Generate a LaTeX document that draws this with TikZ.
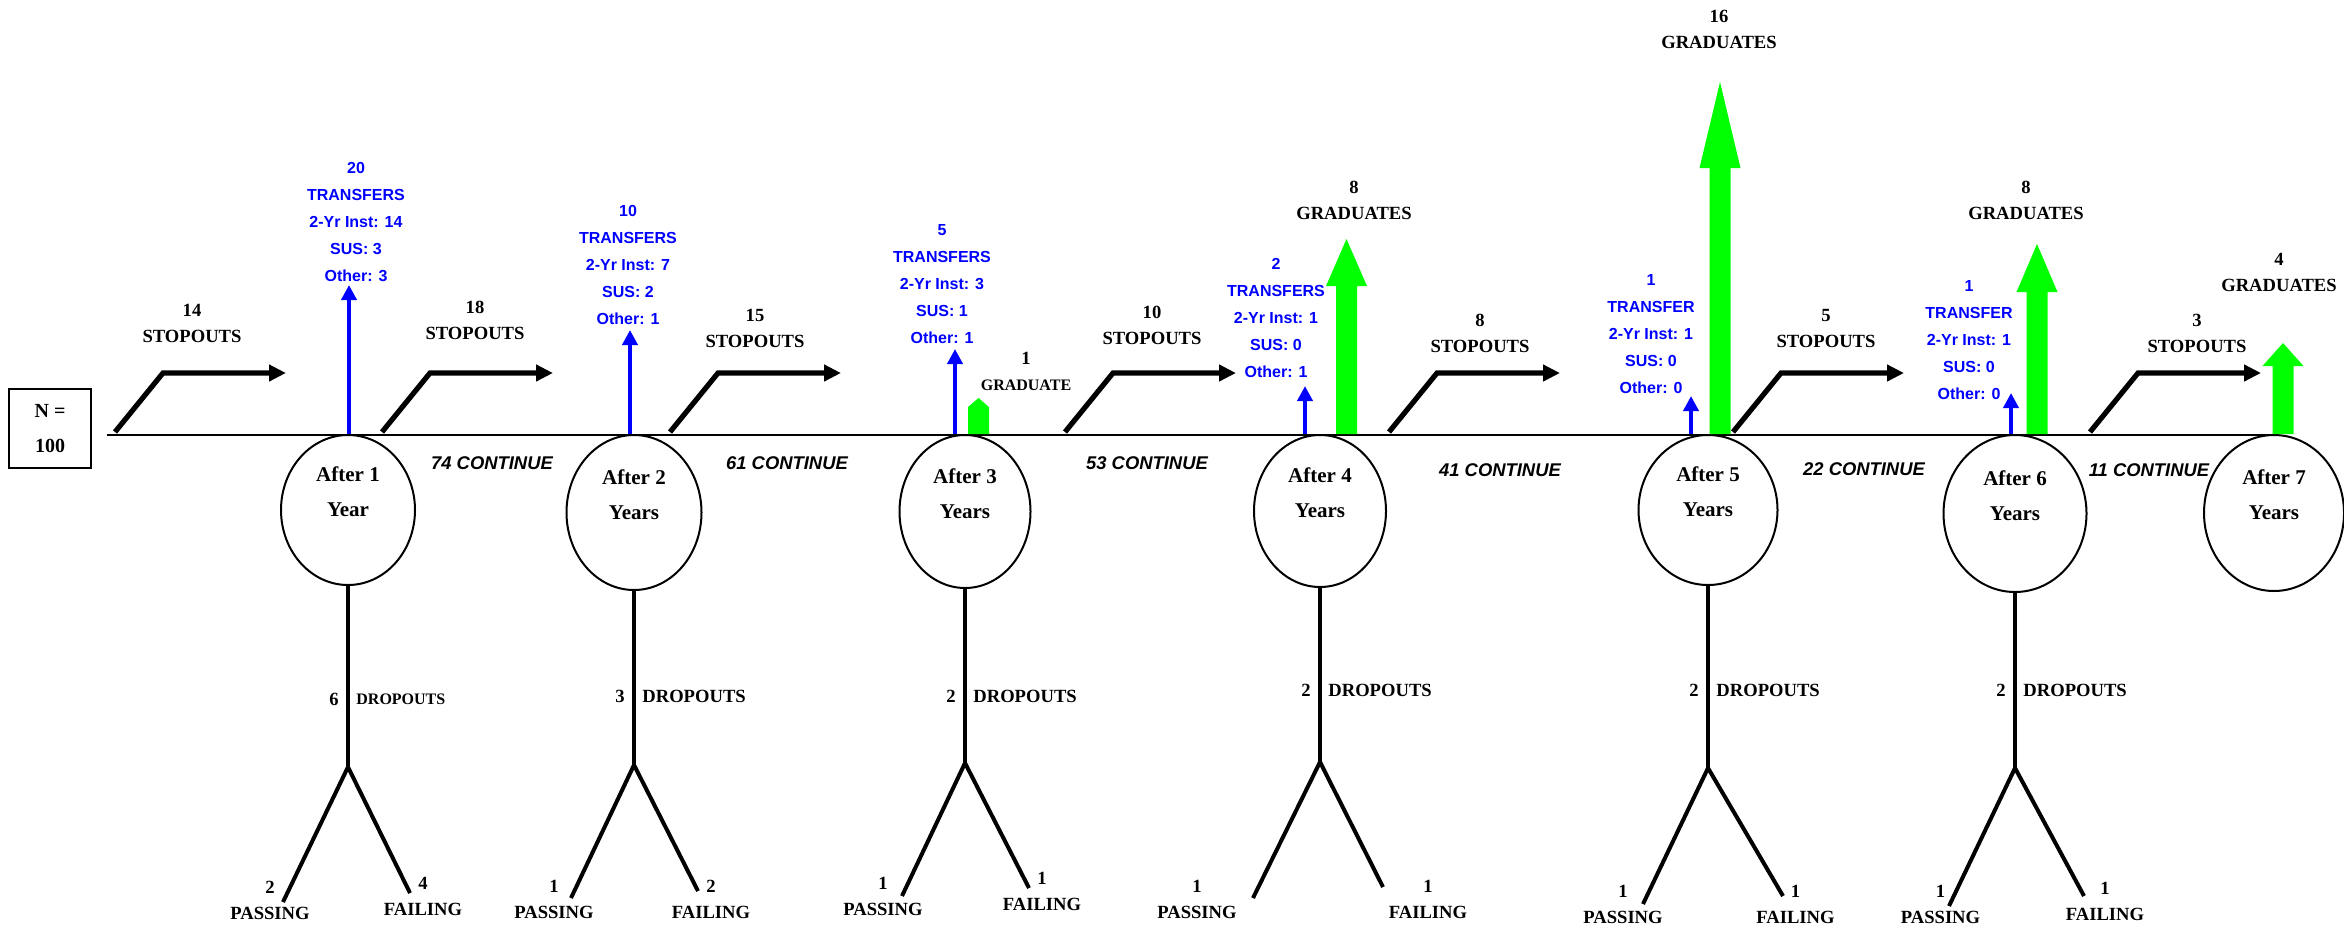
\documentclass[tikz,border=0pt]{standalone}
\usepackage{fontspec}
\setmainfont{Liberation Serif}
\setsansfont{Liberation Sans}
\usetikzlibrary{arrows.meta,shapes.geometric}

\definecolor{xferblue}{RGB}{0,0,255}
\definecolor{gradgreen}{RGB}{0,255,0}

\tikzset{
  yearcirc/.style={ellipse, draw, line width=1pt, inner sep=0pt, outer sep=0pt, anchor=north},
  yeartext/.style={font=\fontsize{10.5}{17.5}\selectfont\bfseries, align=center, inner sep=0pt},
  lbl/.style={font=\fontsize{9.3}{13}\selectfont\bfseries, align=center, inner sep=0pt},
  xfertext/.style={font=\fontsize{8}{13.5}\selectfont\sffamily\bfseries, text=xferblue, align=center, inner sep=0pt},
  conttext/.style={font=\fontsize{9.2}{11}\selectfont\sffamily\bfseries\itshape, inner sep=0pt},
  mainline/.style={line width=1.3pt},
  stopout/.style={line width=2.6pt, -{Triangle[length=8.5pt,width=8pt]}},
  transfer/.style={line width=2.3pt, xferblue, -{Triangle[length=7.5pt,width=7.5pt]}},
  dropline/.style={line width=2.3pt},
  legline/.style={line width=2pt},
}

\begin{document}
\begin{tikzpicture}[x=0.5pt, y=-0.5pt]
  \useasboundingbox (0,0) rectangle (2344,927);

  % Cohort box
  \node[draw, line width=1.4pt, minimum width=41pt, minimum height=39.5pt, inner sep=0pt,
        font=\fontsize{10}{17.5}\selectfont\bfseries, align=center] (cohort) at (50,428.5) {N =\\100};

  % Year ellipses
  \foreach \i/\x/\w/\h/\yr in {1/348/67pt/75pt/Year, 2/634/67.5pt/77.5pt/Years,
      3/965/65.5pt/76.5pt/Years, 4/1320/66pt/76pt/Years, 5/1708/69.5pt/75pt/Years,
      6/2015/71.5pt/78.5pt/Years, 7/2274/70pt/78pt/Years} {
    \node[yearcirc, minimum width=\w, minimum height=\h] (e\i) at (\x,435) {};
    \node[yeartext] (t\i) at ([yshift=9pt]e\i.center) {After \i\\\yr};
  }

  % Timeline
  \coordinate (lstart) at (107,435);
  \draw[mainline] (lstart) -- (e7.north);

  % Stopouts
  \foreach \i/\x/\lx/\ly/\n in {1/115/192/323/14, 2/382/475/320/18, 3/670/755/328/15,
      4/1065/1152/325/10, 5/1389/1480/333/8, 6/1733/1826/328/5, 7/2090/2197/333/3} {
    \coordinate (s\i) at (\x,432);
    \draw[stopout] (s\i) -- ++(48,-59) -- ++(123,0);
    \node[lbl] (sl\i) at (\lx,\ly) {\n\\STOPOUTS};
  }

  % Transfers
  \foreach \i/\x/\tip/\lx/\ly/\n/\w/\two/\sus/\oth in {
      1/349/285/356/222/20/TRANSFERS/14/3/3,
      2/630/330/628/265/10/TRANSFERS/7/2/1,
      3/955/349/942/284/5/TRANSFERS/3/1/1,
      4/1305/386/1276/318/2/TRANSFERS/1/0/1,
      5/1691/396/1651/334/1/TRANSFER/1/0/0,
      6/2011/393/1969/340/1/TRANSFER/1/0/0} {
    \coordinate (tb\i) at (\x,434);
    \coordinate (tt\i) at (\x,\tip);
    \draw[transfer] (tb\i) -- (tt\i);
    \node[xfertext] (tl\i) at (\lx,\ly) {\n\\\w\\2-Yr Inst: \two\\SUS: \sus\\Other: \oth};
  }

  % Graduates
  \fill[gradgreen] (968,434) -- (968,407) -- (978.5,398) -- (989,407) -- (989,434) -- cycle;
  \node[lbl] (g3) at (1026,371.5) {1\\{\fontsize{8}{13}\selectfont GRADUATE}};
  \foreach \i/\x/\hb/\tip/\lx/\ly/\n in {4/1346.5/286/239/1354/200/8, 5/1720/168/82/1719/29/16,
      6/2037/292/244/2026/200/8, 7/2283/366/343/2279/272/4} {
    \fill[gradgreen] (\x-10.5,434) -- (\x-10.5,\hb) -- (\x-20.5,\hb) -- (\x,\tip)
      -- (\x+20.5,\hb) -- (\x+10.5,\hb) -- (\x+10.5,434) -- cycle;
    \node[lbl] (g\i) at (\lx,\ly) {\n\\GRADUATES};
  }

  % Continuing students
  \foreach \i/\x/\y/\n in {1/492/463/74, 2/787/463/61, 3/1147/463/53,
      4/1500/470/41, 5/1864/469/22, 6/2149/470/11}
    \node[conttext] (c\i) at (\x,\y) {\n\ CONTINUE};

  % Dropouts
  \foreach \i/\x/\fy/\plx/\ply/\frx/\fry/\n/\dy/\fs in {
      1/348/767/283/902/410/893/6/699/8,
      2/634/765/571/898/698/891/3/696/9.3,
      3/965/763/902/896/1029/888/2/696/9.3,
      4/1320/762/1253/898/1383/887/2/690/9.3,
      5/1708/768/1643/904/1783/896/2/690/9.3,
      6/2015/768/1949/906/2084/896/2/690/9.3} {
    \coordinate (f\i) at (\x,\fy);
    \coordinate (pe\i) at (\plx,\ply);
    \coordinate (fe\i) at (\frx,\fry);
    \draw[dropline] (e\i.south) -- (f\i);
    \draw[legline] (pe\i) -- (f\i) -- (fe\i);
    \node[lbl, anchor=east] (dn\i) at (\x-9,\dy) {\n};
    \node[lbl, anchor=west, font=\fontsize{\fs}{13}\selectfont\bfseries] (dw\i) at (\x+8,\dy) {DROPOUTS};
  }

  % Passing / failing split
  \foreach \i/\px/\py/\pn/\fx/\fy/\fn in {
      1/270/900/2/423/896.5/4,
      2/554/899/1/711/899/2,
      3/883/896.5/1/1042/891/1,
      4/1197/899/1/1428/899/1,
      5/1623/904.5/1/1795.5/904.5/1,
      6/1940.5/904.5/1/2105/901.5/1} {
    \node[lbl] (pl\i) at (\px,\py) {\pn\\PASSING};
    \node[lbl] (fl\i) at (\fx,\fy) {\fn\\FAILING};
  }
\end{tikzpicture}
\end{document}
